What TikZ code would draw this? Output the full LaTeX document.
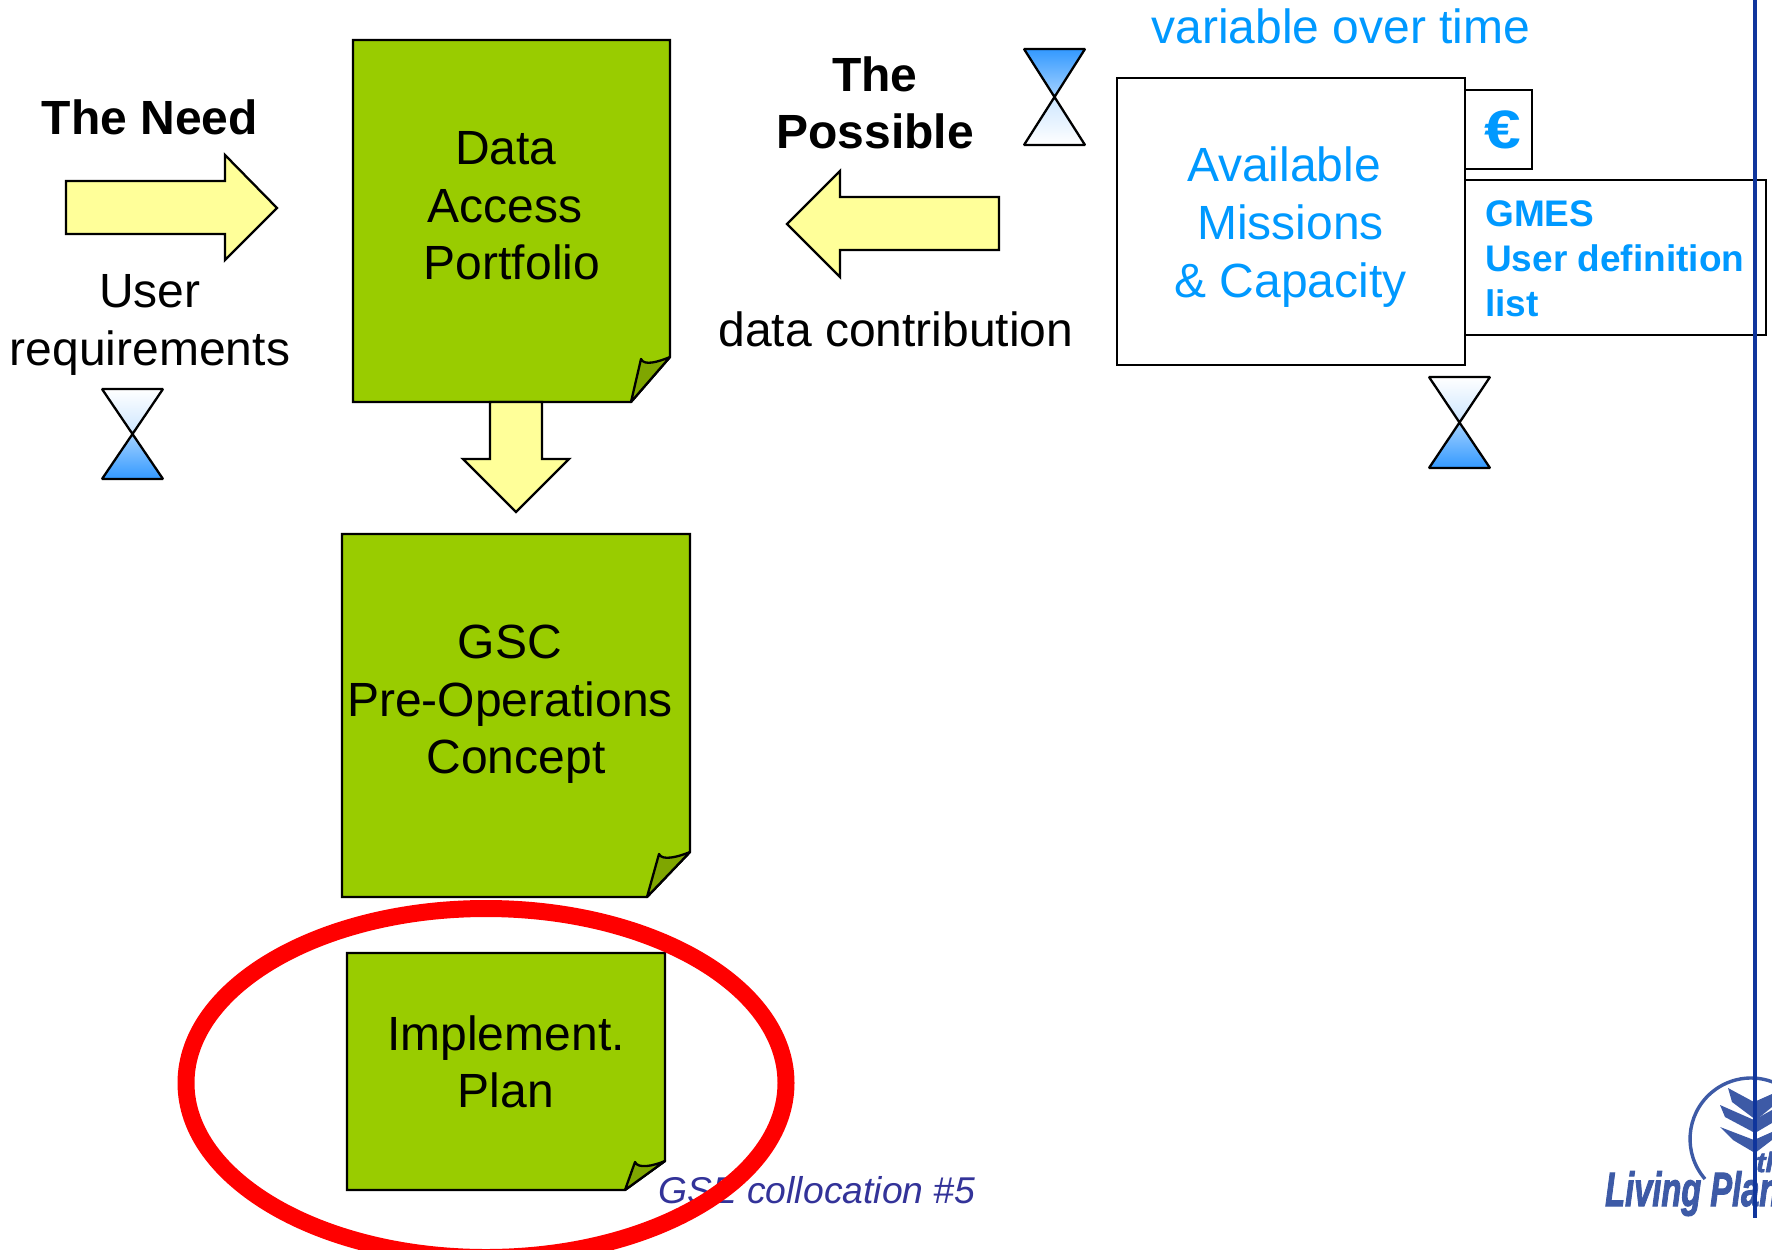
\documentclass[tikz,border=0pt]{standalone}
\usepackage{fontspec}
\setmainfont{Liberation Sans}[BoldItalicFeatures={FakeBold=2.5}]
\definecolor{docgreen}{HTML}{99CC00}
\definecolor{folddark}{HTML}{7FA600}
\definecolor{arrowyellow}{HTML}{FFFF99}
\definecolor{skyblue}{HTML}{0099FF}
\definecolor{glassblue}{HTML}{3399FF}
\definecolor{barblue}{HTML}{0F359C}
\definecolor{logoblue}{HTML}{3D5AA6}
\definecolor{footblue}{HTML}{333399}
\newcommand{\docshape}[8]{%
  \fill[docgreen] (#1,#2) -- (#3,#2) -- (#3,#6) -- (#5,#4) -- (#1,#4) -- cycle;
  \draw[outl] (#1,#2) -- (#3,#2) -- (#3,#6) -- (#5,#4) -- (#1,#4) -- cycle;
  \draw[outl,line join=round,fill=folddark] (#5,#4) -- (#7,#8) .. controls (#7+3,#8+7) and (#3-12,#6+5) .. (#3,#6) -- cycle;
}
\tikzset{
  outl/.style={draw=black,line width=2.3pt,line join=miter},
  blk/.style={font=\fontsize{48}{57.6}\selectfont,align=center,text=black,inner sep=0pt},
  blu/.style={font=\fontsize{48}{57.6}\selectfont,align=center,text=skyblue,inner sep=0pt},
  bld/.style={font=\fontsize{48}{57.6}\selectfont\bfseries,align=center,text=black,inner sep=0pt},
  bigarrow/.style={draw=black,line width=2.3pt,fill=arrowyellow},
  plainbox/.style={draw=black,line width=2.3pt,fill=white,inner sep=0pt},
  logo/.style={fill=logoblue,draw=none},
  glassdark/.style={line width=2.3pt,draw=black,line join=bevel},
}
\begin{document}
\begin{tikzpicture}[x=1pt,y=-1pt]
\useasboundingbox (0,0) rectangle (1772,1250);
\clip (0,0) rectangle (1772,1250);
\fill[white] (0,0) rectangle (1772,1250);

% logo
\draw[logoblue,line width=3.4pt] (1705,1179) arc[start angle=139,end angle=300,radius=61];
\fill[logo] (1728,1088) -- (1754,1102) -- (1772,1094) -- (1772,1107) -- (1756,1120) -- (1732,1102) -- cycle;
\fill[logo] (1720,1105) -- (1754,1120) -- (1772,1110) -- (1772,1123) -- (1755,1133) -- (1725,1117) -- cycle;
\fill[logo] (1720,1127) -- (1754,1140) -- (1772,1132) -- (1772,1140) -- (1755,1153) -- (1733,1140) -- cycle;
\node[anchor=base west,inner sep=0pt,text=logoblue,xscale=.68,font=\fontsize{48}{48}\selectfont\bfseries\itshape] (logotext) at (1605,1206) {Living Plan};
\node[anchor=base west,inner sep=0pt,text=logoblue,font=\fontsize{28}{28}\selectfont\bfseries\itshape] (logothe) at (1756,1172) {th};

% green documents
\docshape{353}{40}{670}{402}{631}{357}{641}{359}
\docshape{342}{534}{690}{897}{647}{852}{659}{854}
\docshape{347}{953}{665}{1190}{625}{1161}{635}{1162}
\node[blk] (dap) at (512,206) {Data\hspace*{12pt}\\\makebox[170pt][c]{Access\hspace*{14pt}}\\Portfolio};
\node[blk] (gsc) at (510,704.5) {GSC\\Pre-Operations\\\hspace*{12pt}Concept};
\node[blk] (impl) at (506,1062) {Implement.\\Plan};

% arrows
\draw[bigarrow] (66,181) -- (225,181) -- (225,155) -- (277,208) -- (225,260) -- (225,234) -- (66,234) -- cycle;
\draw[bigarrow] (787,224) -- (840,171) -- (840,197) -- (999,197) -- (999,250) -- (840,250) -- (840,277) -- cycle;
\draw[bigarrow] (490,402) -- (542,402) -- (542,459) -- (569,459) -- (516,512) -- (463,459) -- (490,459) -- cycle;

% labels
\node[bld] (need) at (150,117) {The Need};
\node[bld] (possible) at (875,103) {The\\Possible};
\node[blk] (userreq) at (150,325) {User\\requirements};
\node[blk] (contrib) at (896,329) {data contribution};
\node[blu] (variable) at (1341,26) {variable over time};

% hourglasses
\path[top color=white,bottom color=white!75!glassblue] (102,389) -- (163,389) -- (132.5,434) -- cycle;
\path[top color=white!55!glassblue,bottom color=glassblue] (132.5,434) -- (102,479) -- (163,479) -- cycle;
\draw[glassdark] (102,389) -- (163,389) -- (102,479) -- (163,479) -- cycle;

\path[top color=glassblue,bottom color=white!55!glassblue] (1024,49) -- (1085,49) -- (1054.5,96) -- cycle;
\path[top color=white!75!glassblue,bottom color=white] (1054.5,96) -- (1024,145) -- (1085,145) -- cycle;
\draw[glassdark] (1024,49) -- (1085,49) -- (1024,145) -- (1085,145) -- cycle;

\path[top color=white,bottom color=white!75!glassblue] (1429,377) -- (1490,377) -- (1459.5,422) -- cycle;
\path[top color=white!55!glassblue,bottom color=glassblue] (1459.5,422) -- (1429,468) -- (1490,468) -- cycle;
\draw[glassdark] (1429,377) -- (1490,377) -- (1429,468) -- (1490,468) -- cycle;

% boxes at right
\node[plainbox,anchor=north west,minimum width=67pt,minimum height=79pt] (eurobox) at (1464,89) {};
\node[plainbox,anchor=north west,minimum width=301pt,minimum height=155pt] (gmesbox) at (1464,179) {};
\node[plainbox,anchor=north west,minimum width=348pt,minimum height=287pt] (avail) at (1116,77) {};
\node[blu] (availtext) at (1290.5,227) {Available\hspace*{13pt}\\Missions\\\& Capacity};
\node[inner sep=0pt,text=skyblue,yscale=.82,font=\fontsize{66}{66}\selectfont\bfseries] (euro) at (1503,130) {€};
\node[anchor=north west,inner sep=0pt,align=left,text=skyblue,font=\fontsize{37}{45}\selectfont\bfseries] (gmes) at (1485,200) {GMES\\User definition\\list};

% footer and highlight
\node[anchor=base west,inner sep=0pt,text=footblue,font=\fontsize{37.3}{37.3}\selectfont\itshape] (foot) at (658,1203) {GSE collocation \#5};
\draw[red,line width=17pt] (486,1083) ellipse[x radius=300,y radius=174.5];

% vertical rule
\draw[barblue,line width=3.4pt] (1755,0) -- (1755,1218);
\end{tikzpicture}
\end{document}
